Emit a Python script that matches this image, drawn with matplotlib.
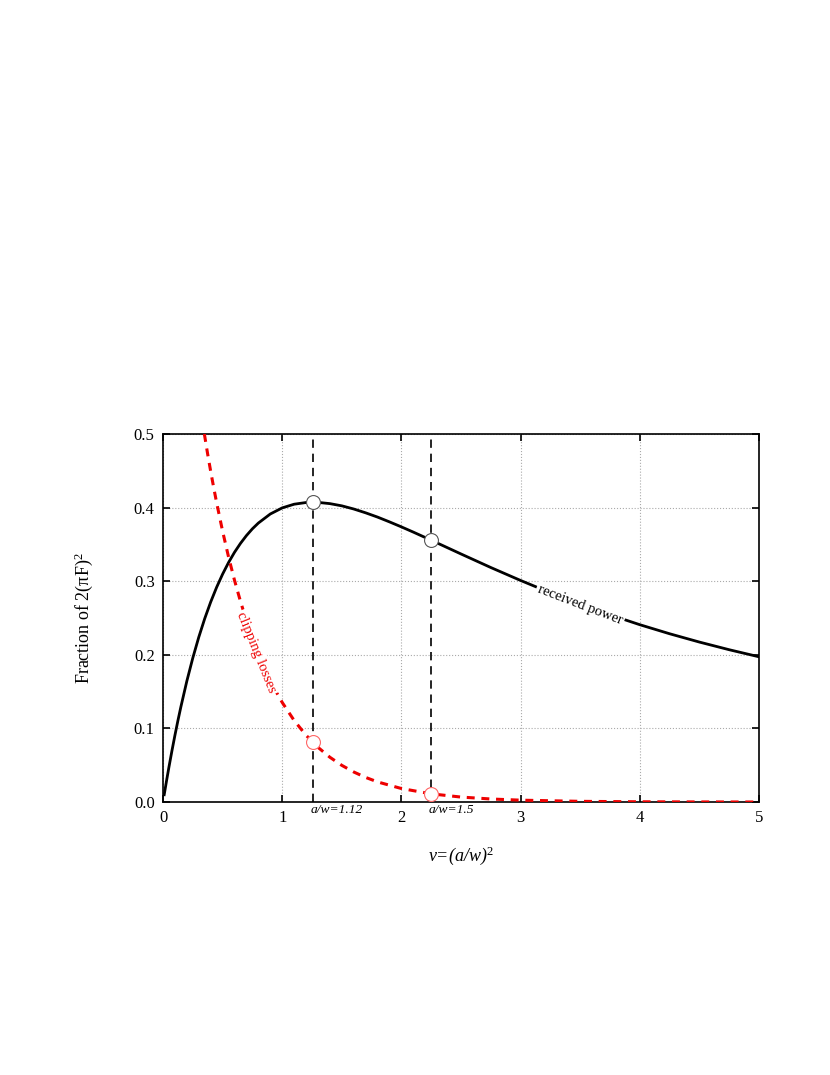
import numpy as np
import matplotlib
matplotlib.use('Agg')
from matplotlib import pyplot as plt

plt.rcParams['font.family'] = ['Liberation Serif', 'DejaVu Serif']
plt.rcParams['mathtext.fontset'] = 'custom'
plt.rcParams['mathtext.rm'] = 'Liberation Serif'
plt.rcParams['mathtext.it'] = 'Liberation Serif:italic'

# received power curve
v_rx = [0.01, 0.03, 0.05, 0.075, 0.1, 0.125, 0.15, 0.2, 0.25, 0.3, 0.35, 0.4, 0.45, 0.5,
        0.55, 0.6, 0.65, 0.7, 0.75, 0.8, 0.9, 1.0, 1.1, 1.2, 1.3, 1.4, 1.5, 1.6, 1.7,
        1.8, 1.9, 2.0, 2.1, 2.25, 2.5, 2.75, 3.0, 3.25, 3.5, 3.75, 4.0, 4.25, 4.5,
        4.75, 5.0]
p_rx = [0.0099, 0.0291, 0.0476, 0.0696, 0.0906, 0.1105, 0.1293, 0.1643, 0.1957, 0.2239,
        0.2492, 0.2717, 0.2918, 0.3096, 0.3254, 0.3393, 0.3514, 0.3620, 0.3712, 0.3790,
        0.3913, 0.3996, 0.4046, 0.4069, 0.4071, 0.4054, 0.4024, 0.3981, 0.3929, 0.3871,
        0.3806, 0.3738, 0.3667, 0.3557, 0.3370, 0.3186, 0.3010, 0.2843, 0.2687, 0.2543,
        0.2409, 0.2286, 0.2173, 0.2069, 0.1973]

# clipping losses curve
v_clip = [0.347, 0.375, 0.4, 0.425, 0.45, 0.5, 0.55, 0.6, 0.65, 0.7, 0.75, 0.8, 0.85,
          0.9, 0.95, 1.0, 1.1, 1.2, 1.3, 1.4, 1.5, 1.6, 1.7, 1.8, 2.0, 2.25, 2.5, 2.75,
          3.0, 3.5, 4.0, 4.5, 5.0]
p_clip = [0.500, 0.4724, 0.4493, 0.4274, 0.4066, 0.3679, 0.3329, 0.3012, 0.2725, 0.2466,
          0.2231, 0.2019, 0.1827, 0.1653, 0.1496, 0.1353, 0.1108, 0.0907, 0.0743, 0.0608,
          0.0498, 0.0408, 0.0334, 0.0273, 0.0183, 0.0111, 0.0067, 0.0041, 0.0025, 0.0009,
          0.0003, 0.0001, 0.0]

# marked operating points
v_mark = [1.2544, 2.25]
rx_mark = [0.4072, 0.3557]
clip_mark = [0.0813, 0.0111]
mark_labels = ['a/w=1.12', 'a/w=1.5']

fig = plt.figure(figsize=(8.3, 10.75), dpi=100)
ax = fig.add_axes([163/830, 1 - 802/1075, 596/830, 368/1075])

ax.set_xlim(0, 5)
ax.set_ylim(0, 0.5)
ax.set_xticks([0, 1, 2, 3, 4, 5])
ax.set_yticks([0.0, 0.1, 0.2, 0.3, 0.4, 0.5])
ax.set_yticklabels(['0.0', '0.1', '0.2', '0.3', '0.4', '0.5'])
ax.grid(True, color='#aaaaaa', linestyle=':', linewidth=0.8)
ax.tick_params(direction='in', top=True, right=True, length=5, width=1.2,
               labelsize=12, pad=6)
for s in ax.spines.values():
    s.set_linewidth(1.2)

for vm in v_mark:
    ax.plot([vm, vm], [0, 0.5], color='black', linestyle=(0, (5, 3.5)), linewidth=1.2, zorder=3)

ax.plot(v_rx, p_rx, color='black', linewidth=2.0, zorder=4)
ax.plot(v_clip, p_clip, color='#ee0000', linewidth=2.2, linestyle=(0, (2.6, 2.2)), zorder=4)

ax.plot(v_mark, rx_mark, 'o', markersize=10, markerfacecolor='white',
        markeredgecolor='#555555', markeredgewidth=0.8, zorder=6)
ax.plot(v_mark, clip_mark, 'o', markersize=10, markerfacecolor='white',
        markeredgecolor='#ff6666', markeredgewidth=0.8, zorder=6)

for vm, lab in zip(v_mark, mark_labels):
    ax.text(vm - 0.02, -0.003, lab, fontsize=9.7, style='italic', ha='left', va='top')

ax.text(3.5, 0.268, 'received power', fontsize=10.5, rotation=-21,
        ha='center', va='center', zorder=5,
        bbox=dict(facecolor='white', edgecolor='none', pad=1.5))
ax.text(0.785, 0.203, 'clipping losses', fontsize=10.5, rotation=-68, color='#ee0000',
        ha='center', va='center', zorder=5,
        bbox=dict(facecolor='white', edgecolor='none', pad=1.5))

ax.set_xlabel('v=(a/w)$^2$', fontsize=13, style='italic', labelpad=13)
ax.set_ylabel('Fraction of 2(\u03c0F)$^2$', fontsize=13, labelpad=28)

fig.savefig('out.png', dpi=100)
